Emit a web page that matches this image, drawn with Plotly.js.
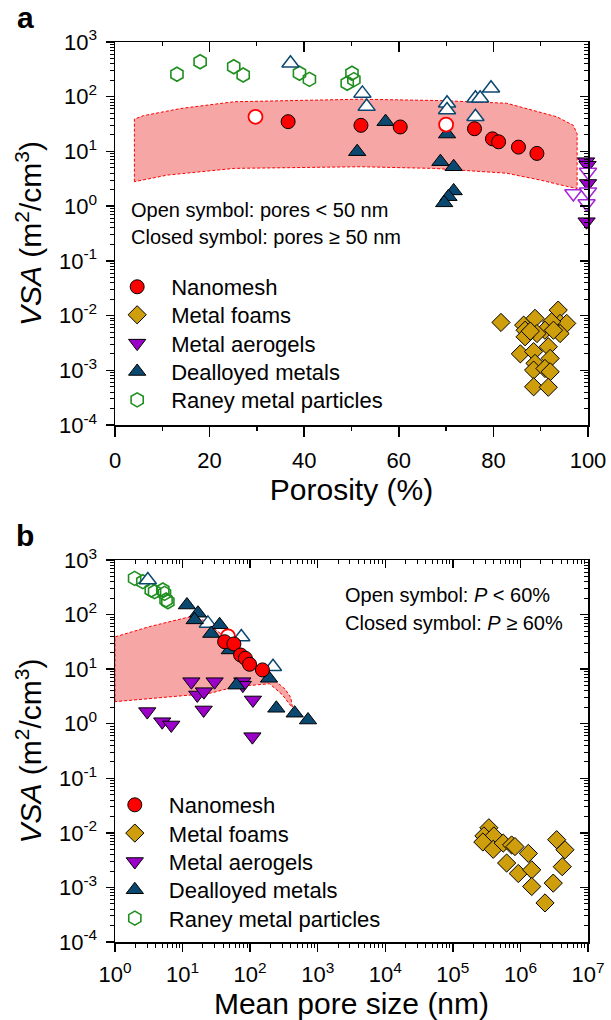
<!DOCTYPE html>
<html><head><meta charset="utf-8">
<script src="https://cdn.plot.ly/plotly-3.0.1.min.js"></script>
<style>html,body{margin:0;padding:0;background:#fff}</style>
</head><body><div id="chart" style="width:611px;height:1020px"></div>
<script>
// ---------- Panel a: VSA vs porosity (%) ----------
var nanoA_x = [36.6, 52.0, 60.3, 76.0, 79.8, 81.1, 85.3, 89.2];
var nanoA_y = [35, 30, 28, 26, 17, 15, 12, 9.2];
var nanoAOpen_x = [29.7, 70.0];
var nanoAOpen_y = [43, 31];

var foamA_x = [81.6, 86.4, 88.8, 93.7, 94.1, 95.5, 92.3, 86.7, 90.9, 89.2, 94.1, 86.7, 85.7, 88.5, 91.6, 92.0, 88.8, 88.5, 90.9, 92.0, 88.5, 91.6, 87.8, 92.7];
var foamA_y = [0.0075, 0.0067, 0.0089, 0.0126, 0.0072, 0.0072, 0.0077, 0.0054, 0.0054, 0.0047, 0.0047, 0.0041, 0.0020, 0.0022, 0.0027, 0.00165, 0.00134, 0.00101, 0.00108, 0.00094, 0.0005, 0.00049, 0.0052, 0.0054];

var aeroA_x = [99.6, 99.9, 100.0, 99.7];
var aeroA_y = [6.5, 5.6, 2.6, 0.52];
var aeroAOpen_x = [100.0, 96.9, 100.0, 99.7];
var aeroAOpen_y = [4.2, 1.7, 1.83, 1.12];

var dealA_x = [51.2, 57.2, 70.2, 68.8, 71.6, 71.6, 70.5, 69.6];
var dealA_y = [9.9, 35, 20.8, 6.5, 5.25, 1.9, 1.49, 1.15];
var dealAOpen_x = [37.1, 52.3, 53.2, 70.2, 70.2, 76.2, 77.2, 79.5, 76.2];
var dealAOpen_y = [408, 115, 66, 76, 57, 94, 94, 143, 43];

var raneyA_x = [13.1, 18.0, 25.1, 27.1, 39.0, 41.1, 50.1, 49.1, 50.5];
var raneyA_y = [257, 436, 353, 249, 268, 208, 268, 176, 205];

// shaded nanomesh range (outline, closed polygon)
var bandA_x = [4.1, 4.1, 6, 13.9, 25.2, 39.2, 51.9, 68.8, 82.8, 93.4, 96.9, 97.7, 97.7, 95.5, 89.9, 82.8, 67.4, 51.9, 25.2, 11.1, 4.1];
var bandA_y = [2.8, 39, 45, 61, 81, 87, 90, 85, 76, 43, 30, 21, 2.1, 2.3, 3.0, 4.0, 4.9, 5.25, 4.9, 3.7, 2.8];

// ---------- Panel b: VSA vs mean pore size (nm) ----------
var nanoB_x = [41.9, 57.5, 72.3, 85, 98, 152];
var nanoB_y = [31.9, 29, 18.2, 15.8, 12.3, 9.7];
var nanoBOpen_x = [47];
var nanoBOpen_y = [40];

var foamB_x = [3.41e5, 2.88e5, 4.05e5, 2.78e5, 3.96e5, 5.56e5, 7.4e5, 8.3e5, 1.31e6, 6.25e5, 9.3e5, 1.47e6, 1.47e6, 2.31e6, 3.06e6, 4.16e6, 4.56e6, 3.44e6];
var foamB_y = [0.0124, 0.0088, 0.0088, 0.0068, 0.0050, 0.0065, 0.0060, 0.0056, 0.0042, 0.0028, 0.0018, 0.0021, 0.00104, 0.00052, 0.0012, 0.0024, 0.0049, 0.0075];

var aeroB_x = [3.0, 5.0, 6.8, 13.5, 16.5, 20.7, 20.5, 29.8, 76.6, 78, 110, 108];
var aeroB_y = [1.67, 1.09, 0.95, 5.9, 3.37, 3.87, 1.79, 5.9, 5.9, 5.1, 2.73, 0.58];

var dealB_x = [11.6, 16.9, 15.1, 35.3, 26.6, 50, 62.5, 190, 244, 456, 718];
var dealB_y = [150, 106, 80, 65, 45, 22.5, 5.1, 6.8, 1.92, 1.56, 1.17];
var dealBOpen_x = [3.06, 23.7, 74, 218];
var dealBOpen_y = [430, 69, 39, 11.1];

var raneyB_x = [1.95, 2.58, 3.44, 3.85, 5.1, 5.4, 5.7, 6.06];
var raneyB_y = [462, 401, 282, 263, 282, 245, 185, 172];

var bandB_x = [1, 1, 3.2, 12.7, 20, 35, 60, 100, 194, 330, 400, 422, 380, 300, 194, 62.5, 25, 5, 1];
var bandB_y = [2.54, 39, 60, 91, 80, 47, 28, 15, 7.5, 4.3, 3.0, 2.0, 2.3, 3.4, 5.4, 4.8, 3.6, 3.0, 2.54];

// ---------- tick labels ----------
var yTickVals = [1e-4, 1e-3, 1e-2, 1e-1, 1, 10, 100, 1000];
var yTickText = ['10<sup>-4</sup>', '10<sup>-3</sup>', '10<sup>-2</sup>', '10<sup>-1</sup>', '10<sup>0</sup>', '10<sup>1</sup>', '10<sup>2</sup>', '10<sup>3</sup>'];
var xbTickVals = [1, 10, 100, 1e3, 1e4, 1e5, 1e6, 1e7];
var xbTickText = ['10<sup>0</sup>', '10<sup>1</sup>', '10<sup>2</sup>', '10<sup>3</sup>', '10<sup>4</sup>', '10<sup>5</sup>', '10<sup>6</sup>', '10<sup>7</sup>'];
var xaTickVals = [0, 20, 40, 60, 80, 100];
var xaMinorVals = [10, 30, 50, 70, 90];

function logMinor(lo, hi) {
  var v = [];
  for (var e = lo; e < hi; e++) for (var d = 2; d <= 9; d++) v.push(d * Math.pow(10, e));
  return v;
}

// ---------- styles ----------
var FONT = 'Liberation Sans, Arial, Helvetica, sans-serif';
var C_RED = '#ff0000', C_FOAM = '#cf9e0c', C_AERO = '#9a00c8', C_AERO_OPEN = '#a525d8',
    C_DEAL = '#0b4870', C_RANEY = '#1f8f1f', C_BAND = '#f7a6a6';

function band(x, y, xa, ya) {
  return {x: x, y: y, xaxis: xa, yaxis: ya, type: 'scatter', mode: 'lines', fill: 'toself',
    fillcolor: C_BAND, line: {color: C_RED, width: 1, dash: '3px,2px'}, showlegend: false, hoverinfo: 'skip'};
}
function pts(x, y, xa, ya, opt) {
  var t = {x: x, y: y, xaxis: xa, yaxis: ya, type: 'scatter', mode: 'markers', cliponaxis: false,
    marker: {symbol: opt.symbol, size: opt.size, color: opt.fill, line: {color: opt.line, width: opt.lw || 1}},
    name: opt.name || '', showlegend: !!opt.legendId};
  if (opt.legendId) t.legend = opt.legendId;
  return t;
}

// each legend entry has its own legend box so it can be placed exactly
function panelTraces(xa, ya, L, D) {
  return [
    band(D.bandX, D.bandY, xa, ya),
    pts(D.foamX, D.foamY, xa, ya, {symbol: 'diamond', size: 14, fill: C_FOAM, line: '#000', name: 'Metal foams', legendId: L[1]}),
    pts(D.raneyX, D.raneyY, xa, ya, {symbol: 'hexagon-open', size: 14, fill: C_RANEY, line: C_RANEY, lw: 1.6, name: 'Raney metal particles', legendId: L[4]}),
    pts(D.aeroX, D.aeroY, xa, ya, {symbol: 'triangle-down', size: 15, fill: C_AERO, line: '#000', name: 'Metal aerogels', legendId: L[2]}),
    D.aeroOX ? pts(D.aeroOX, D.aeroOY, xa, ya, {symbol: 'triangle-down', size: 15, fill: '#ffffff', line: C_AERO_OPEN, lw: 1.5}) : null,
    pts(D.dealOX, D.dealOY, xa, ya, {symbol: 'triangle-up', size: 15, fill: '#ffffff', line: C_DEAL, lw: 1.5}),
    pts(D.dealX, D.dealY, xa, ya, {symbol: 'triangle-up', size: 15, fill: C_DEAL, line: '#000', name: 'Dealloyed metals', legendId: L[3]}),
    pts(D.nanoOX, D.nanoOY, xa, ya, {symbol: 'circle', size: 14, fill: '#ffffff', line: C_RED, lw: 1.8}),
    pts(D.nanoX, D.nanoY, xa, ya, {symbol: 'circle', size: 14, fill: C_RED, line: '#000', name: 'Nanomesh', legendId: L[0]})
  ].filter(function (t) { return t; });
}

var legA = ['legend', 'legend2', 'legend3', 'legend4', 'legend5'];
var legB = ['legend6', 'legend7', 'legend8', 'legend9', 'legend10'];

var traces = [].concat(
  panelTraces('x', 'y', legA, {bandX: bandA_x, bandY: bandA_y, foamX: foamA_x, foamY: foamA_y,
    raneyX: raneyA_x, raneyY: raneyA_y, aeroX: aeroA_x, aeroY: aeroA_y, aeroOX: aeroAOpen_x, aeroOY: aeroAOpen_y,
    dealX: dealA_x, dealY: dealA_y, dealOX: dealAOpen_x, dealOY: dealAOpen_y,
    nanoX: nanoA_x, nanoY: nanoA_y, nanoOX: nanoAOpen_x, nanoOY: nanoAOpen_y}),
  panelTraces('x2', 'y2', legB, {bandX: bandB_x, bandY: bandB_y, foamX: foamB_x, foamY: foamB_y,
    raneyX: raneyB_x, raneyY: raneyB_y, aeroX: aeroB_x, aeroY: aeroB_y,
    dealX: dealB_x, dealY: dealB_y, dealOX: dealBOpen_x, dealOY: dealBOpen_y,
    nanoX: nanoB_x, nanoY: nanoB_y, nanoOX: nanoBOpen_x, nanoOY: nanoBOpen_y}),
  [
    {x: [null], y: [null], xaxis: 'x3', yaxis: 'y', type: 'scatter', mode: 'markers', showlegend: false, hoverinfo: 'skip'},
    {x: [null], y: [null], xaxis: 'x', yaxis: 'y3', type: 'scatter', mode: 'markers', showlegend: false, hoverinfo: 'skip'},
    {x: [null], y: [null], xaxis: 'x4', yaxis: 'y2', type: 'scatter', mode: 'markers', showlegend: false, hoverinfo: 'skip'},
    {x: [null], y: [null], xaxis: 'x2', yaxis: 'y4', type: 'scatter', mode: 'markers', showlegend: false, hoverinfo: 'skip'}
  ]
);

var yMinor = logMinor(-4, 3);
var xbMinor = logMinor(0, 7);
var tickFont = {family: FONT, size: 22, color: '#000'};
var titleFont = {family: FONT, size: 30, color: '#000'};

function baseAxis() {
  return {showgrid: false, zeroline: false, showline: true, mirror: true, linecolor: '#000', linewidth: 1.5,
    ticks: 'outside', tickcolor: '#000', tickwidth: 1.5, tickfont: tickFont, ticklabelstandoff: 4};
}
function mirrorAxis(over, anchor, side, type, range, tv, minorVals, len) {
  return {overlaying: over, anchor: anchor, side: side, type: type, range: range, tickmode: 'array', tickvals: tv,
    ticks: 'inside', ticklen: len, tickwidth: 1.5, tickcolor: '#000', showticklabels: false, showgrid: false,
    zeroline: false, showline: false,
    minor: {tickmode: 'array', tickvals: minorVals, ticks: 'inside', ticklen: 4, tickwidth: 1, tickcolor: '#000', showgrid: false}};
}

var xa = Object.assign(baseAxis(), {domain: [0, 1], anchor: 'y', range: [0, 100], tickmode: 'array', tickvals: xaTickVals,
  ticklen: 10, ticklabelstandoff: 5,
  minor: {tickmode: 'array', tickvals: xaMinorVals, ticks: 'outside', ticklen: 4, tickwidth: 1.5, tickcolor: '#000', showgrid: false},
  title: {text: 'Porosity (%)', font: titleFont, standoff: 3}});
var ya = Object.assign(baseAxis(), {domain: [0.5744, 1], anchor: 'x', type: 'log', range: [-4, 3], tickmode: 'array',
  tickvals: yTickVals, ticktext: yTickText, ticklen: 8,
  minor: {tickmode: 'array', tickvals: yMinor, ticks: 'outside', ticklen: 4, tickwidth: 1, tickcolor: '#000', showgrid: false},
  title: {text: '<i>VSA</i> (m<sup>2</sup>/cm<sup>3</sup>)', font: titleFont, standoff: 8}});
var xb = Object.assign(baseAxis(), {domain: [0, 1], anchor: 'y2', type: 'log', range: [0, 7], tickmode: 'array',
  tickvals: xbTickVals, ticktext: xbTickText, ticklen: 8, ticklabelstandoff: 4,
  minor: {tickmode: 'array', tickvals: xbMinor, ticks: 'outside', ticklen: 4, tickwidth: 1, tickcolor: '#000', showgrid: false},
  title: {text: 'Mean pore size (nm)', font: titleFont, standoff: 6}});
var yb = Object.assign(baseAxis(), {domain: [0, 0.4244], anchor: 'x2', type: 'log', range: [-4, 3], tickmode: 'array',
  tickvals: yTickVals, ticktext: yTickText, ticklen: 8,
  minor: {tickmode: 'array', tickvals: yMinor, ticks: 'outside', ticklen: 4, tickwidth: 1, tickcolor: '#000', showgrid: false},
  title: {text: '<i>VSA</i> (m<sup>2</sup>/cm<sup>3</sup>)', font: titleFont, standoff: 8}});

var annFont = {family: FONT, size: 20, color: '#000'};
var layout = {
  width: 611, height: 1020,
  margin: {l: 115, r: 23, t: 42, b: 78},
  paper_bgcolor: '#fff', plot_bgcolor: '#fff',
  font: {family: FONT, color: '#000'},
  showlegend: true,
  xaxis: xa, yaxis: ya, xaxis2: xb, yaxis2: yb,
  xaxis3: mirrorAxis('x', 'y', 'top', 'linear', [0, 100], xaTickVals, xaMinorVals, 10),
  yaxis3: mirrorAxis('y', 'x', 'right', 'log', [-4, 3], yTickVals, yMinor, 8),
  xaxis4: mirrorAxis('x2', 'y2', 'top', 'log', [0, 7], xbTickVals, xbMinor, 8),
  yaxis4: mirrorAxis('y2', 'x2', 'right', 'log', [-4, 3], yTickVals, yMinor, 8),
  annotations: [
    {xref: 'paper', yref: 'paper', x: 0.030, y: 0.8133, xanchor: 'left', yanchor: 'middle', showarrow: false,
      text: 'Open symbol: pores &lt; 50 nm', font: annFont},
    {xref: 'paper', yref: 'paper', x: 0.030, y: 0.7837, xanchor: 'left', yanchor: 'middle', showarrow: false,
      text: 'Closed symbol: pores ≥ 50 nm', font: annFont},
    {xref: 'paper', yref: 'paper', x: 0.4827, y: 0.3856, xanchor: 'left', yanchor: 'middle', showarrow: false,
      text: 'Open symbol: <i>P</i> &lt; 60%', font: annFont},
    {xref: 'paper', yref: 'paper', x: 0.4827, y: 0.3541, xanchor: 'left', yanchor: 'middle', showarrow: false,
      text: 'Closed symbol: <i>P</i> ≥ 60%', font: annFont},
    {xref: 'paper', yref: 'paper', x: -0.19, y: 1.027, xanchor: 'center', yanchor: 'middle', showarrow: false,
      text: '<b>a</b>', font: {family: FONT, size: 30, color: '#000'}},
    {xref: 'paper', yref: 'paper', x: -0.19, y: 0.452, xanchor: 'center', yanchor: 'middle', showarrow: false,
      text: '<b>b</b>', font: {family: FONT, size: 30, color: '#000'}}
  ]
};

// legend boxes: one per entry
var legYA = [0.7278, 0.6967, 0.6652, 0.6337, 0.6022];
var legYB = [0.1522, 0.1208, 0.0892, 0.0578, 0.0263];
function legBox(x, y) {
  return {x: x, y: y, xanchor: 'left', yanchor: 'middle', bgcolor: 'rgba(0,0,0,0)', borderwidth: 0,
    font: {family: FONT, size: 22, color: '#000'}, itemwidth: 58};
}
legA.forEach(function (id, i) { layout[id] = legBox(-0.025, legYA[i]); });
legB.forEach(function (id, i) { layout[id] = legBox(-0.03, legYB[i]); });

Plotly.newPlot('chart', traces, layout, {displayModeBar: false, staticPlot: true});
</script></body></html>
